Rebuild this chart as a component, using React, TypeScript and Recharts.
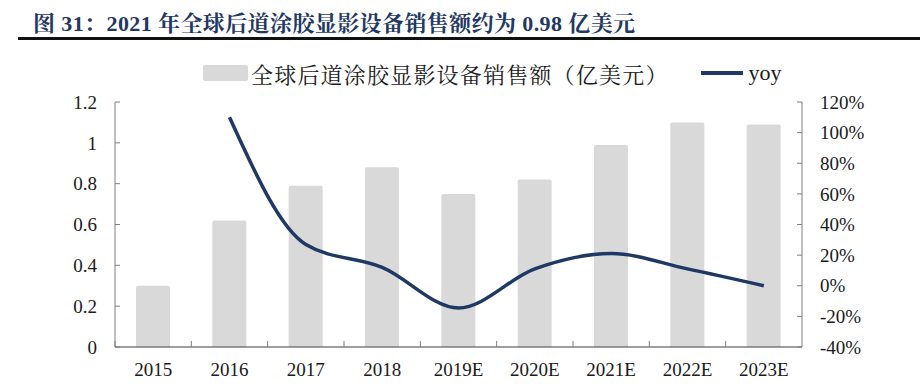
import { Bar, ComposedChart, Line, XAxis, YAxis } from "recharts";

const categories = ["2015", "2016", "2017", "2018", "2019E", "2020E", "2021E", "2022E", "2023E"];
const sales = [0.3, 0.62, 0.79, 0.88, 0.75, 0.82, 0.99, 1.1, 1.09];
const yoy = [null, 110, 27, 12, -14.5, 11, 21, 11, 0];
const leftTicks = [0, 0.2, 0.4, 0.6, 0.8, 1, 1.2];
const rightTicks = [-40, -20, 0, 20, 40, 60, 80, 100, 120];

const data = categories.map((year, i) => ({ year, sales: sales[i], yoy: yoy[i] }));

const W = 920;
const H = 384;
const LEFT_W = 115;
const RIGHT_W = 118;
const TOP = 102;
const X_H = 37;
const X_GAP = 16;
const band = (W - LEFT_W - RIGHT_W) / categories.length;

const serif = '"Liberation Serif", "Times New Roman", serif';
const cjk = '"Liberation Serif", "Noto Serif CJK SC", "Noto Sans CJK SC", serif';
const navy = "#1f3864";
const tickFont = { fill: "#1a1a1a", fontSize: 19, fontFamily: serif };

// category labels centred, tick marks on the band boundaries pointing up
function XTick(props: any) {
  const { x, y, payload } = props;
  const axisY = y - X_GAP;
  const bx = x - band / 2;
  return (
    <g>
      <line x1={bx} x2={bx} y1={axisY} y2={axisY - 6} stroke="#7f7f7f" strokeWidth={1} />
      <text x={x} y={y} dy="0.71em" textAnchor="middle" {...tickFont}>
        {payload.value}
      </text>
    </g>
  );
}

export default function App() {
  return (
    <div style={{ position: "absolute", left: 0, top: 0, width: W, height: H, background: "#fff" }}>
      <div
        style={{
          position: "absolute",
          left: 33,
          top: 6,
          fontFamily: cjk,
          fontWeight: 700,
          fontSize: 22,
          color: navy,
          whiteSpace: "nowrap",
          letterSpacing: 0.4,
        }}
      >
        图 31：2021 年全球后道涂胶显影设备销售额约为 0.98 亿美元
      </div>
      <div style={{ position: "absolute", left: 18, right: 0, top: 37, height: 3, background: "#111" }} />

      <div
        style={{
          position: "absolute",
          left: 203,
          top: 58,
          height: 30,
          display: "flex",
          alignItems: "center",
          fontFamily: cjk,
          fontSize: 22,
          color: "#1a1a1a",
          whiteSpace: "nowrap",
        }}
      >
        <span style={{ display: "inline-block", width: 45, height: 16, background: "#d9d9d9", borderRadius: 2 }} />
        <span style={{ marginLeft: 3, letterSpacing: 1.2 }}>全球后道涂胶显影设备销售额（亿美元）</span>
        <span style={{ display: "inline-block", width: 42, height: 4, background: navy, marginLeft: 32 }} />
        <span style={{ marginLeft: 6, fontFamily: serif }}>yoy</span>
      </div>

      <ComposedChart
        width={W}
        height={H}
        data={data}
        margin={{ top: TOP, right: 0, left: 0, bottom: 0 }}
        style={{ position: "absolute", left: 0, top: 0 }}
      >
        <XAxis
          dataKey="year"
          height={X_H}
          tickLine={false}
          tickSize={0}
          tickMargin={X_GAP}
          interval={0}
          axisLine={{ stroke: "#404040", strokeWidth: 1.2 }}
          tick={<XTick />}
        />
        <YAxis
          yAxisId="left"
          width={LEFT_W}
          domain={[0, 1.2]}
          ticks={leftTicks}
          interval={0}
          tickSize={-5}
          tickMargin={23}
          axisLine={{ stroke: "#7f7f7f" }}
          tickLine={{ stroke: "#7f7f7f" }}
          tick={tickFont}
        />
        <YAxis
          yAxisId="right"
          orientation="right"
          width={RIGHT_W}
          domain={[-40, 120]}
          ticks={rightTicks}
          interval={0}
          tickSize={-5}
          tickMargin={23}
          axisLine={{ stroke: "#7f7f7f" }}
          tickLine={{ stroke: "#7f7f7f" }}
          tick={{ ...tickFont, textAnchor: "start" }}
          tickFormatter={(v) => `${v}%`}
        />
        <Bar
          yAxisId="left"
          dataKey="sales"
          fill="#d9d9d9"
          barSize={34}
          radius={[2, 2, 0, 0]}
          isAnimationActive={false}
        />
        <Line
          yAxisId="right"
          dataKey="yoy"
          type="monotone"
          stroke={navy}
          strokeWidth={3.5}
          dot={false}
          activeDot={false}
          connectNulls={false}
          isAnimationActive={false}
        />
      </ComposedChart>
    </div>
  );
}
